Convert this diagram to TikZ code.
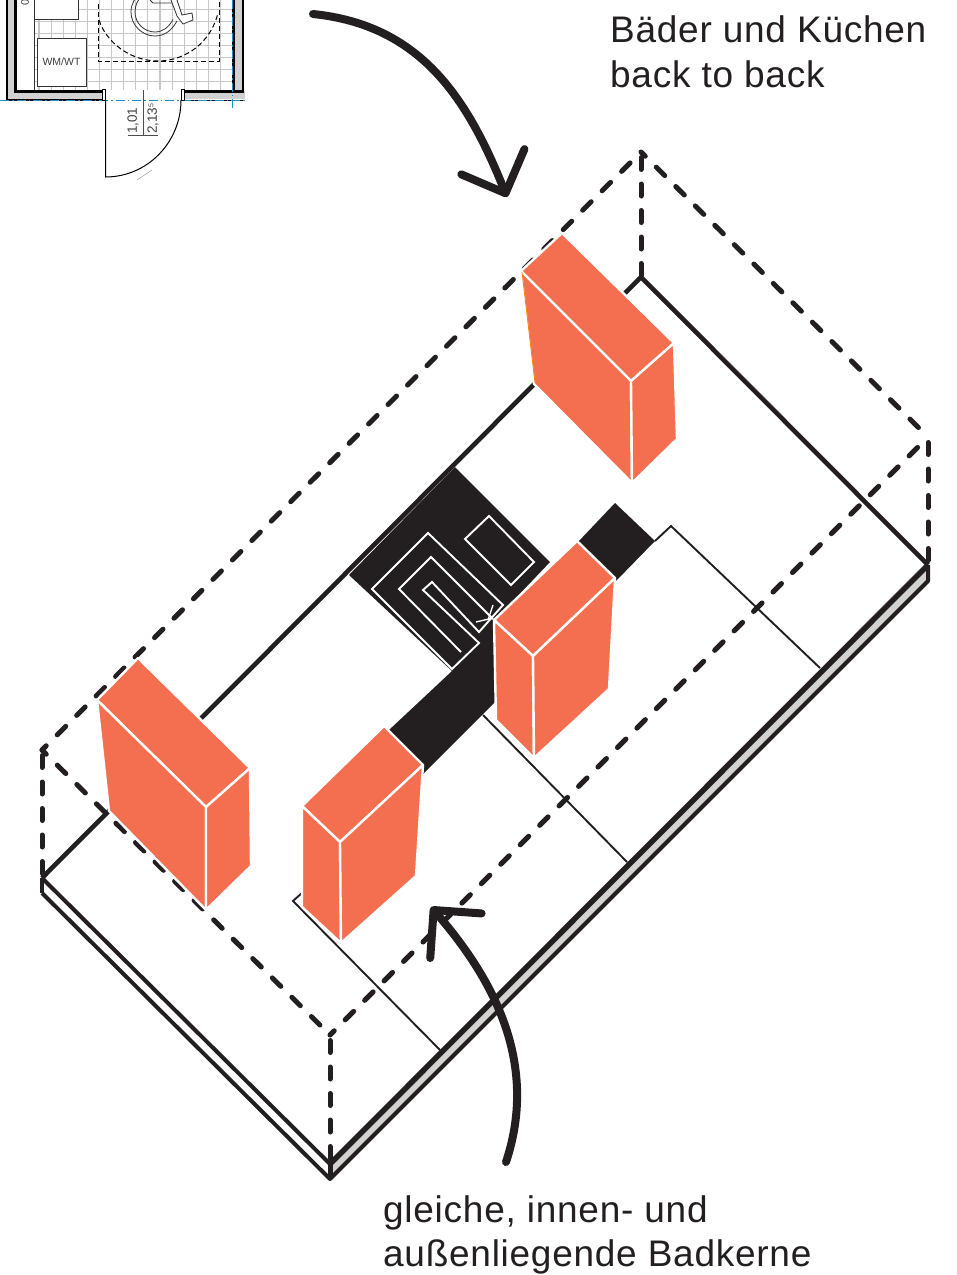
\documentclass[tikz,border=0pt]{standalone}
\usepackage{fontspec}
\setmainfont[LetterSpace=2]{Liberation Sans}
\newfontfamily\planfont{Liberation Sans}
\usetikzlibrary{arrows.meta,positioning,calc}
\definecolor{coreblack}{HTML}{231F20}
\definecolor{blockred}{HTML}{F36F50}
\definecolor{slabgrey}{HTML}{D2D3D0}
\definecolor{planblue}{HTML}{1B8FC9}

\begin{document}
\begin{tikzpicture}[
  x=1pt, y=-1pt,
  label/.style={
    anchor=base west, inner sep=0pt, font=\fontsize{37}{37}\selectfont, text=coreblack
  },
  planlabel/.style={
    inner sep=0pt, text=black!75, font=\planfont\fontsize{10.5}{11}\selectfont
  },
  edge/.style={draw=coreblack, line width=4.6pt, line join=round},
  dashedge/.style={
    draw=coreblack, line width=5pt, line cap=round,
    dash pattern=on 12pt off 15.5pt, dash phase=6pt
  },
  dashpost/.style={
    draw=coreblack, line width=5pt, line cap=round,
    dash pattern=on 12pt off 14.5pt
  },
  thinedge/.style={draw=coreblack, line width=1.9pt},
  block/.style={fill=blockred, draw=white, line width=2.4pt, line join=round},
  coreline/.style={draw=white, line width=1.9pt, line join=miter},
  arrow/.style={
    draw=coreblack, line width=8pt, line cap=round,
    -{Straight Barb[length=34pt,width=68pt,round]}
  },
  planwall/.style={draw=black, line width=3pt},
  plandash/.style={draw=black, line width=1pt, dash pattern=on 5pt off 3pt},
  planaxis/.style={draw=planblue, line width=.8pt, dash pattern=on 9pt off 3pt on 1.5pt off 3pt}
]
\useasboundingbox (0,0) rectangle (957,1275);

% Floor plan detail
\begin{scope}
\clip (0,0) rectangle (250,182);
\foreach \x in {39,51.1,...,232} \draw[black!22, line width=1.1pt] (\x,0) -- (\x,90);
\foreach \y in {9.5,21.5,...,90} \draw[black!22, line width=1.1pt] (34,\y) -- (232,\y);
\fill[black!18] (7,0) rectangle (15,98);
\fill[black!18] (7,91) rectangle (104,99);
\fill[black!18] (184,91) rectangle (245,99);
\fill[black!18] (233,0) rectangle (243,91);
\draw[planwall] (15,0) -- (15,91) -- (103,91);
\draw[planwall] (184,91) -- (244,91);
\draw[planwall] (233,0) -- (233,91);
\draw[draw=black, line width=1.6pt] (7,0) -- (7,100) -- (103,100);
\draw[draw=black, line width=1.6pt] (243,0) -- (243,91);
\draw[draw=black, line width=1pt] (184,100) -- (244,100);
\draw[draw=black!80, line width=.8pt, fill=white] (34,0) -- (34,19) -- (78,19) -- (78,0);
\draw[draw=black!80, line width=.8pt] (34,19) -- (34,90);
\node[draw=black!80, line width=.8pt, fill=white, minimum width=49pt, minimum height=48pt, inner sep=0pt, planlabel] (wmwt) at (61.5,62) {WM/WT};
\node[planlabel, rotate=90, font=\planfont\fontsize{11}{11}\selectfont] (wallmark) at (25,2) {0};
% turning circle
\draw[plandash] (98,4) -- (98,61) -- (219,61) -- (219,0);
\draw[plandash] (99,20) .. controls (106,42) and (130,61) .. (158,61) .. controls (186,61) and (211,42) .. (218,13);
% wheelchair
\draw[draw=black!80, line width=.8pt] (177,21) .. controls (172,30) and (165,36) .. (155,36) .. controls (142,36) and (131,25) .. (131,12) .. controls (131,4) and (135,-3) .. (141,-7);
\draw[draw=black!80, line width=.8pt] (173,19.5) .. controls (169,27) and (163,32) .. (155,32) .. controls (144,32) and (135,23) .. (135,12) .. controls (135,5) and (138,-1) .. (143,-5);
\draw[draw=black!80, line width=.8pt] (150,0) -- (153,3) -- (174,3) -- (173,0);
\draw[draw=black!80, line width=.8pt, fill=white] (177,0) -- (182,15) -- (192,13) -- (193,20) -- (183,24) -- (177,16) -- (171,0);
% door
\draw[planaxis] (0,100) -- (245,100);
\draw[planaxis] (232,0) -- (232,109);
\draw[draw=black, line width=.9pt, fill=white] (102.5,89) rectangle (105.5,100.5);
\draw[draw=black, line width=.9pt, fill=white] (181,89) rectangle (184,100.5);
\draw[draw=black, line width=1pt] (105.5,100) -- (105.5,177) .. controls (147.2,177) and (181,142.5) .. (181,100);
\draw[draw=black!70, line width=.6pt] (143,90) -- (143,135);
\draw[draw=black!70, line width=.8pt] (128,135) -- (158,135);
\draw[draw=black!40, line width=.5pt] (137,180) -- (152,170);
\node[planlabel, rotate=90, anchor=west, font=\planfont\fontsize{13.5}{13.5}\selectfont] (width) at (133,134) {1,01};
\node[planlabel, rotate=90, anchor=west, font=\planfont\fontsize{13.5}{13.5}\selectfont] (height) at (153,134) {2,13\raisebox{3.5pt}{\fontsize{7}{7}\selectfont 5}};
\end{scope}

% Corner points of the slab
\coordinate (left) at (42,878);
\coordinate (front) at (330,1164);
\coordinate (right) at (928,565);
\coordinate (back) at (641,277);
\coordinate (leftlow) at (42,893);
\coordinate (frontlow) at (330,1179);
\coordinate (rightlow) at (928,581);
\coordinate (lefttop) at (42,750);
\coordinate (fronttop) at (330,1035);
\coordinate (righttop) at (928,437);
\coordinate (backtop) at (641,152);

% Slab
\fill[slabgrey] (front) -- (right) -- (rightlow) -- (frontlow) -- cycle;
\draw[edge, line width=4pt] (leftlow) -- (frontlow) -- (rightlow) -- (right);
\draw[edge, line width=4pt] (left) -- (front);
\draw[edge, line width=5.5pt] (front) -- (right);
\draw[edge] (left) -- (back) -- (right);
\draw[edge] (left) -- (leftlow);
\draw[edge, line width=5pt] (front) -- (frontlow);

% Thin partitions
\draw[thinedge] (655,541) -- (671,526) -- (820,668);
\draw[thinedge] (483,715) -- (627,862);
\draw[thinedge] (303,892) -- (293,901) -- (440,1050);

% Bath core
\fill[coreblack] (455,467) -- (550,562) -- (495,620) -- (495,702) -- (422,775) -- (389,730) -- (452,671) -- (349,575) -- cycle;
\fill[coreblack] (578,542) -- (615,503) -- (655,541) -- (615,582) -- cycle;
\draw[coreline] (465,539) -- (489,516) -- (534,562) -- (511,585) -- cycle;
\draw[coreline] (428,533) -- (372,589) -- (452,669) -- (479,643) -- (423,590) -- (432,582) -- (479,632) -- (503,605) -- cycle;
\draw[coreline] (461,652) -- (399,589) -- (431,557) -- (493,619);
\draw[coreline, line width=1.4pt] (476,622) -- (493,618) (493,605) -- (488,620);

% Dashed volume
\draw[dashpost] ($(lefttop)+(0,5.5)$) -- (left);
\draw[dashpost] ($(fronttop)+(0,5.5)$) -- (front);
\draw[dashpost] ($(righttop)+(0,5.5)$) -- (right);
\draw[dashpost] ($(backtop)+(0,5.5)$) -- (back);
\draw[dashedge] (lefttop) -- (backtop);
\draw[dashedge] (backtop) -- (righttop);
\draw[dashedge] (lefttop) -- (fronttop);
\draw[dashedge] (fronttop) -- (righttop);

% Wet cores
% back right
\path[block] (521,271) -- (562,233) -- (674,343) -- (631,381) -- cycle;
\path[block] (521,271) -- (631,381) -- (632,483) -- (534,384) -- cycle;
\path[block] (631,381) -- (674,343) -- (677,439) -- (632,483) -- cycle;
\draw[orange, line width=.8pt] (522,272) -- (535,383);
% left
\path[block] (97,700) -- (138,658) -- (250,768) -- (206,807) -- cycle;
\path[block] (97,700) -- (206,807) -- (206,910) -- (109,811) -- cycle;
\path[block] (206,807) -- (250,768) -- (251,866) -- (206,910) -- cycle;
% centre
\path[block] (494,620) -- (577,541) -- (615,578) -- (533,656) -- cycle;
\path[block] (494,620) -- (533,656) -- (534,758) -- (496,720) -- cycle;
\path[block] (533,656) -- (615,578) -- (609,689) -- (534,758) -- cycle;
% lower centre
\path[block] (302,806) -- (384,726) -- (423,765) -- (340,842) -- cycle;
\path[block] (302,806) -- (340,842) -- (341,943) -- (302,907) -- cycle;
\path[block] (340,842) -- (423,765) -- (416,876) -- (341,943) -- cycle;

% Labels
\node[label] (kitchens) at (610,42) {Bäder und Küchen};
\node[label, below=45pt of kitchens.base west, anchor=base west] (backtoback) {back to back};
\node[label] (cores) at (383,1222) {gleiche, innen- und};
\node[label, below=44pt of cores.base west, anchor=base west] (outer) {außenliegende Badkerne};

% Arrows
\coordinate (planend) at (313,14);
\coordinate (plantip) at (507,197);
\coordinate (coresend) at (506,1162);
\coordinate (corestip) at (431,907);
\draw[arrow] (planend) .. controls (420,25) and (467,97) .. (plantip);
\draw[arrow] (coresend) .. controls (540,1060) and (490,975) .. (corestip);

\end{tikzpicture}
\end{document}
